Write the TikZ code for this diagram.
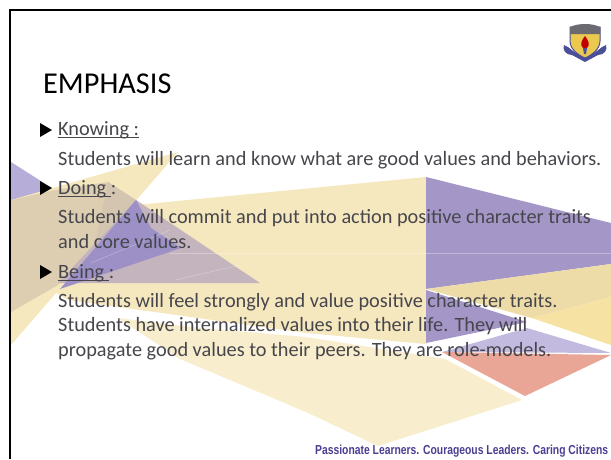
\documentclass[tikz,border=0pt]{standalone}
\usepackage{fontspec}
\setmainfont{Carlito}
\newfontfamily\footfont{Liberation Sans}
\definecolor{yel}{HTML}{F6E8BE}
\definecolor{yelb}{HTML}{F8EDCC}
\definecolor{yelc}{HTML}{F6E2A2}
\definecolor{yeld}{HTML}{EEDCA8}
\definecolor{purA}{HTML}{A497C8}
\definecolor{purB}{HTML}{B6AED8}
\definecolor{purC}{HTML}{9C90C6}
\definecolor{lav}{HTML}{C3BAE0}
\definecolor{tanA}{HTML}{DDCEB2}
\definecolor{tanB}{HTML}{D4C5B0}
\definecolor{mauve}{HTML}{C4B4BE}
\definecolor{salmon}{HTML}{E9A595}
\definecolor{bodytxt}{HTML}{46464C}
\definecolor{foot}{HTML}{4A3F92}
\definecolor{navy}{HTML}{4A4F98}
\definecolor{shield}{HTML}{EBC84E}
\definecolor{crest}{HTML}{6A6A70}
\newcommand\sketchul[1]{\setbox0\hbox{#1}\rlap{\rule[-2.6pt]{\wd0}{0.8pt}}\box0}
\tikzset{
  bodytext/.style={anchor=base west,inner sep=0pt,text=bodytxt,font=\fontsize{20.3}{24}\selectfont},
  bullettri/.style={fill=black}
}
\begin{document}
\begin{tikzpicture}[x=1pt,y=-1pt]
\useasboundingbox (0,0) rectangle (611,459);
\fill[white] (0,0) rectangle (611,459);
% big yellow shapes
\fill[yel] (136,205) -- (426,177) -- (426,344) -- (306,333) -- (68,300) -- (55,292) -- cycle;
\fill[yelb] (118,318) -- (200,328) -- (306,337) -- (445,359) -- (522,400) -- (378,446) -- (306,412) -- (180,359) -- cycle;
% right cluster
\fill[purA] (426,177) -- (611,223) -- (611,264) -- (426,289) -- cycle;
\fill[yeld] (426,289) -- (611,264) -- (611,297) -- (532,318) -- cycle;
\fill[yelc] (532,318) -- (611,297) -- (611,345) -- cycle;
\fill[purA] (426,290) -- (527,322) -- (426,343) -- cycle;
\fill[lav] (527,328) -- (611,353) -- (442,352) -- cycle;
\fill[salmon] (442,352) -- (611,355) -- (525,396) -- cycle;
% left cluster
\fill[purB] (11,162) -- (55,190) -- (11,200) -- cycle;
\fill[yel] (178,152) -- (11,200) -- (11,345) -- cycle;
\fill[tanA] (11,200) -- (55,190) -- (108,182) -- (136,200) -- (58,285) -- (11,312) -- cycle;
\fill[tanB] (108,182) -- (136,200) -- (91,263) -- cycle;
\fill[mauve] (136,200) -- (260,283) -- (58,283) -- cycle;
\fill[purC] (136,200) -- (151,228) -- (181,248) -- (60,289) -- cycle;
% faint light lines
\draw[white,opacity=.3,line width=.6pt] (170,253) -- (611,253);
\draw[white,opacity=.3,line width=.6pt] (91,263) -- (170,230);
\draw[white,opacity=.3,line width=.6pt] (175,280) -- (240,265);
% frame
\draw[black,line width=2.6pt] (10,459) -- (10,10) -- (611,10);
% logo
\fill[navy] (564,45) .. controls (562,50) and (566,55) .. (572,55) -- (585,62) -- (598,55) .. controls (604,55) and (608,50) .. (606,45) -- (602,47) -- (597,51) -- (585,58) -- (573,51) -- (568,47) -- cycle;
\fill[shield,draw=navy,line width=1pt] (570,27) -- (600,27) -- (600,41) .. controls (600,49) and (592,55) .. (585,58) .. controls (578,55) and (570,49) .. (570,41) -- cycle;
\fill[crest] (570,27) .. controls (578,23) and (592,23) .. (600,27) -- (600,34) -- (570,34) -- cycle;
\fill[red!75!black] (585,36) .. controls (581,41) and (580,45) .. (583,48) -- (587,48) .. controls (590,45) and (589,41) .. (585,36) -- cycle;
\fill[navy] (583,48) -- (587,48) -- (586,54) -- (584,54) -- cycle;
% title
\node[anchor=base west,inner sep=0pt,text=black,font=\fontsize{30.3}{36}\selectfont] (title) at (43,93) {EMPHASIS};
% bullets
\fill[bullettri] (40,123) -- (52,130) -- (40,137) -- cycle;
\fill[bullettri] (40,181) -- (52,188) -- (40,195) -- cycle;
\fill[bullettri] (40,265) -- (52,272) -- (40,279) -- cycle;
% body
\node[bodytext] (k) at (58,135.5) {\sketchul{Knowing :}};
\node[bodytext] (k1) at (58,165) {Students will learn and know what are good values and behaviors.};
\node[bodytext] (d) at (58,194.5) {\sketchul{Doing }:};
\node[bodytext] (d1) at (58,223) {Students will commit and put into action positive character traits};
\node[bodytext] (d2) at (58,248) {and core values.};
\node[bodytext] (b) at (58,278) {\sketchul{Being }:};
\node[bodytext] (b1) at (58,307) {Students will feel strongly and value positive character traits.};
\node[bodytext] (b2) at (58,331.5) {Students have internalized values into their life. They will};
\node[bodytext] (b3) at (58,356) {propagate good values to their peers. They are role-models.};
% footer
\node[anchor=base west,inner sep=0pt,text=foot] (foot) at (315,454) {\resizebox{293pt}{\height}{\footfont\bfseries\fontsize{13}{15}\selectfont Passionate Learners. Courageous Leaders. Caring Citizens}};
\end{tikzpicture}
\end{document}
